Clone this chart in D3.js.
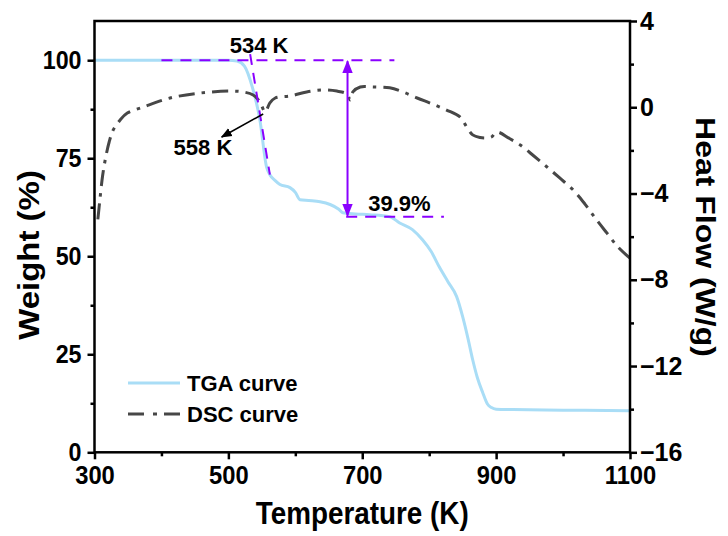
<!DOCTYPE html>
<html>
<head>
<meta charset="utf-8">
<script src="https://cdn.jsdelivr.net/npm/d3@7"></script>
<style>
  html, body { margin: 0; padding: 0; background: #fff; }
  svg { display: block; font-family: "Liberation Sans", Arial, sans-serif; font-weight: bold; }
</style>
</head>
<body>
<svg id="chart" width="728" height="536"></svg>
<script>
// TGA: temperature (K) vs weight (%)
const tgaTemp   = [300, 400, 500, 513, 524, 536, 547, 557, 562, 570, 577, 592, 600, 607, 620, 637, 652, 665, 671, 690, 711, 741, 756, 775, 790, 803, 815, 828, 841, 850, 858, 865, 872, 880, 887, 893, 900, 925, 1000, 1100];
const tgaWeight = [100, 100, 100, 99.8, 98.5, 93, 84.9, 72.8, 70.8, 69.3, 68.3, 67.5, 66.3, 64.4, 64.2, 63.9, 63.2, 62.0, 61.1, 60.8, 60.6, 60.1, 58.5, 56.8, 54.2, 51.2, 47.3, 43.5, 39.7, 34.6, 29.0, 23.6, 19.0, 15.2, 12.3, 11.4, 11.0, 10.9, 10.75, 10.6];

// DSC: temperature (K) vs heat flow (W/g)
const dscTemp = [305, 308, 312, 316, 322, 328, 338, 349, 373, 413, 458, 503, 522, 537, 547, 555, 562, 570, 592, 617, 641, 662, 677, 682, 686, 697, 716, 741, 760, 782, 805, 826, 846, 856, 865, 876, 886, 893, 901, 920, 936, 956, 976, 995, 1015, 1033, 1050, 1066, 1082, 1100];
const dscFlow = [-5.2, -4.3, -3.2, -2.44, -1.6, -1.05, -0.6, -0.27, 0.01, 0.43, 0.66, 0.75, 0.71, 0.57, 0.25, -0.22, 0.2, 0.43, 0.52, 0.71, 0.8, 0.75, 0.62, 0.34, 0.71, 0.94, 0.94, 0.9, 0.72, 0.43, 0.15, -0.13, -0.45, -0.91, -1.28, -1.40, -1.42, -1.38, -1.15, -1.45, -1.75, -2.25, -2.77, -3.28, -3.83, -4.5, -5.22, -5.85, -6.48, -7.0];

// Axis ticks
const xTicks = [300, 500, 700, 900, 1100];
const xMinor = [400, 600, 800, 1000];
const yLeftTicks = [0, 25, 50, 75, 100];
const yLeftMinor = [12.5, 37.5, 62.5, 87.5];
const yRightTicks = [-16, -12, -8, -4, 0, 4];
const yRightMinor = [-14, -10, -6, -2, 2];

// Annotations
const onsetTemp = 534, peakTemp = 558, massLoss = 39.9;
const legendItems = ["TGA curve", "DSC curve"];

const svg = d3.select("#chart");
const plotLeft = 94.5, plotRight = 630, plotTop = 21, plotBottom = 452.3;

const x = d3.scaleLinear().domain([300, 1100]).range([plotLeft, plotRight]);
const yL = d3.scaleLinear().domain([0, 110]).range([plotBottom, plotTop]);
const yR = d3.scaleLinear().domain([-16, 4]).range([plotBottom, plotTop]);

const purple = "#8a00ff";
const tgaColor = "#a9ddf6";
const dscColor = "#474747";
const squeeze = 0.87;   // narrow glyph width used for the axis titles

const defs = svg.append("defs");
function marker(id, color, size) {
  defs.append("marker")
    .attr("id", id).attr("viewBox", "0 0 10 10")
    .attr("refX", 9).attr("refY", 5)
    .attr("markerUnits", "userSpaceOnUse")
    .attr("markerWidth", size).attr("markerHeight", size)
    .attr("orient", "auto-start-reverse")
    .append("path").attr("d", "M0,1 L10,5 L0,9 Z").attr("fill", color);
}
marker("arrPurple", purple, 13);
marker("arrBlack", "#000", 11);

function condense(sel, k) {
  sel.each(function () {
    const len = this.getComputedTextLength();
    d3.select(this).attr("textLength", len * k).attr("lengthAdjust", "spacingAndGlyphs");
  });
}

// Curves
const tgaLine = d3.line().x(d => x(d[0])).y(d => yL(d[1])).curve(d3.curveMonotoneX);
const dscLine = d3.line().x(d => x(d[0])).y(d => yR(d[1])).curve(d3.curveCatmullRom.alpha(0.5));

svg.append("path")
  .datum(d3.zip(tgaTemp, tgaWeight))
  .attr("d", tgaLine).attr("fill", "none")
  .attr("stroke", tgaColor).attr("stroke-width", 3);

svg.append("path")
  .datum(d3.zip(dscTemp, dscFlow))
  .attr("d", dscLine).attr("fill", "none")
  .attr("stroke", dscColor).attr("stroke-width", 3)
  .attr("stroke-dasharray", "16,7,3.5,7");

// Onset construction lines
const dash = "11,8";
svg.append("line")
  .attr("x1", x(400)).attr("x2", x(748)).attr("y1", yL(100)).attr("y2", yL(100))
  .attr("stroke", purple).attr("stroke-width", 2).attr("stroke-dasharray", dash);
// tangent on the main weight-loss step
const slope = (70.8 - 100) / (562 - onsetTemp);
svg.append("line")
  .attr("x1", x(onsetTemp - 1.5)).attr("y1", yL(100 - 1.5 * slope))
  .attr("x2", x(562)).attr("y2", yL(70.8))
  .attr("stroke", purple).attr("stroke-width", 2).attr("stroke-dasharray", dash);
svg.append("line")
  .attr("x1", x(676)).attr("x2", x(822)).attr("y1", yL(100 - massLoss)).attr("y2", yL(100 - massLoss))
  .attr("stroke", purple).attr("stroke-width", 2).attr("stroke-dasharray", dash);
// double arrow for the mass loss
svg.append("line")
  .attr("x1", x(678)).attr("x2", x(678))
  .attr("y1", yL(100) + 1).attr("y2", yL(100 - massLoss) - 1)
  .attr("stroke", purple).attr("stroke-width", 2)
  .attr("marker-start", "url(#arrPurple)").attr("marker-end", "url(#arrPurple)");

// arrow pointing at the DSC dip
svg.append("line")
  .attr("x1", x(552)).attr("y1", yR(-0.31))
  .attr("x2", x(490)).attr("y2", yR(-1.38))
  .attr("stroke", "#000").attr("stroke-width", 1.6)
  .attr("marker-end", "url(#arrBlack)");

const annFont = 22;
svg.append("text").attr("x", x(546)).attr("y", 53).attr("text-anchor", "middle")
  .attr("font-size", annFont).text(`${onsetTemp} K`);
svg.append("text").attr("x", x(462)).attr("y", 155).attr("text-anchor", "middle")
  .attr("font-size", annFont).text(`${peakTemp} K`);
svg.append("text").attr("x", x(709)).attr("y", 211).attr("text-anchor", "start")
  .attr("font-size", annFont).text(`${massLoss}%`);

// Frame
svg.append("rect").attr("x", plotLeft).attr("y", plotTop)
  .attr("width", plotRight - plotLeft).attr("height", plotBottom - plotTop)
  .attr("fill", "none").attr("stroke", "#000").attr("stroke-width", 2.5);

// Axes
const tickFont = 25;
function styleAxis(g) {
  g.select(".domain").remove();
  g.selectAll(".tick line").attr("stroke", "#000").attr("stroke-width", 2.5);
  g.selectAll(".tick text").attr("font-size", tickFont).attr("font-weight", "bold")
    .attr("font-family", "Liberation Sans, Arial, sans-serif").attr("fill", "#000");
}
const gx = svg.append("g").attr("transform", `translate(0,${plotBottom})`)
  .call(d3.axisBottom(x).tickValues(xTicks).tickSize(7).tickPadding(7).tickFormat(d3.format("d")))
  .call(styleAxis);
svg.append("g").attr("transform", `translate(0,${plotBottom})`)
  .call(d3.axisBottom(x).tickValues(xMinor).tickSize(4).tickFormat(""))
  .call(styleAxis);

const gl = svg.append("g").attr("transform", `translate(${plotLeft},0)`)
  .call(d3.axisLeft(yL).tickValues(yLeftTicks).tickSize(7).tickPadding(6).tickFormat(d3.format("d")))
  .call(styleAxis);
svg.append("g").attr("transform", `translate(${plotLeft},0)`)
  .call(d3.axisLeft(yL).tickValues(yLeftMinor).tickSize(4).tickFormat(""))
  .call(styleAxis);

svg.append("g").attr("transform", `translate(${plotRight},0)`)
  .call(d3.axisRight(yR).tickValues(yRightTicks).tickSize(7).tickPadding(3).tickFormat(d3.format("d")))
  .call(styleAxis);
svg.append("g").attr("transform", `translate(${plotRight},0)`)
  .call(d3.axisRight(yR).tickValues(yRightMinor).tickSize(4).tickFormat(""))
  .call(styleAxis);

condense(gx.selectAll(".tick text"), 0.95);
condense(gl.selectAll(".tick text"), 0.93);

// Axis titles
const titleFont = 32;
svg.append("text").attr("x", (plotLeft + plotRight) / 2).attr("y", 524)
  .attr("text-anchor", "middle").attr("font-size", titleFont).text("Temperature (K)")
  .call(condense, squeeze);
svg.append("text").attr("transform", `translate(39,255) scale(${squeeze},1) rotate(-90)`)
  .attr("text-anchor", "middle").attr("font-size", 33).text("Weight (%)");
svg.append("text").attr("transform", `translate(696,237) scale(${squeeze},1) rotate(90)`)
  .attr("text-anchor", "middle").attr("font-size", titleFont).text("Heat Flow (W/g)");

// Legend
const legend = svg.append("g");
legendItems.forEach((name, i) => {
  const ly = 383 + i * 31;
  legend.append("line").attr("x1", 128).attr("x2", 180).attr("y1", ly).attr("y2", ly)
    .attr("stroke", i === 0 ? tgaColor : dscColor).attr("stroke-width", 3)
    .attr("stroke-dasharray", i === 0 ? null : "16,9,4,7");
  legend.append("text").attr("x", 187).attr("y", ly + 8).attr("font-size", 22).text(name);
});
</script>
</body>
</html>
